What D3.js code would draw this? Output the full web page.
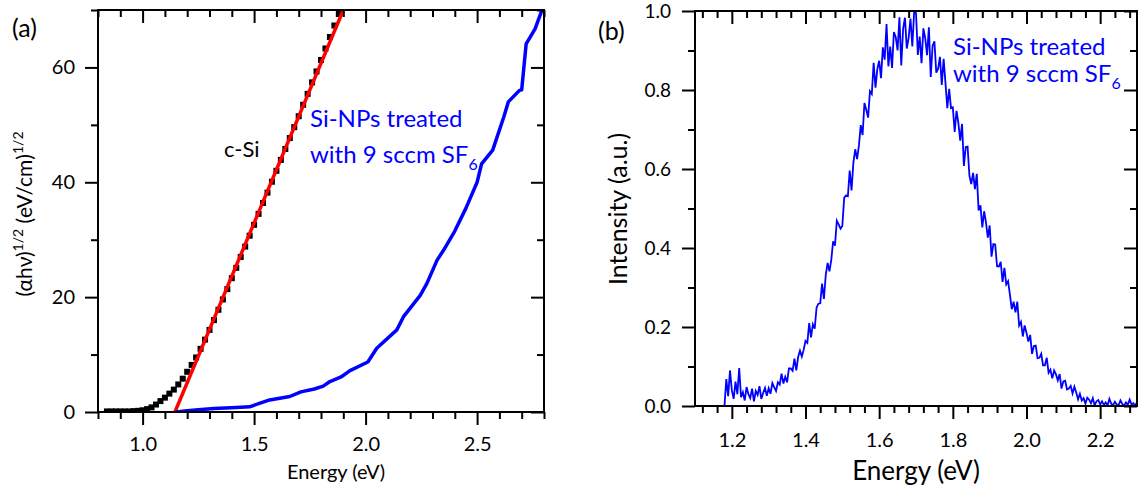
<!DOCTYPE html>
<html>
<head>
<meta charset="utf-8">
<script src="https://cdn.jsdelivr.net/npm/d3@7/dist/d3.min.js"></script>
<style>
  body { margin: 0; background: #fff; }
  svg text { font-family: Lato, "Open Sans", sans-serif; }
</style>
</head>
<body>
<div id="canvas"></div>
<script>
"use strict"

/* Panel (a): c-Si absorption, Tauc plot */
let cSiEnergy = [0.84, 0.86, 0.88, 0.90, 0.92, 0.94, 0.96, 0.98, 1.00, 1.02,
                 1.04, 1.06, 1.08, 1.10, 1.12, 1.14, 1.16, 1.18, 1.20, 1.22,
                 1.24, 1.26, 1.28, 1.30, 1.32, 1.34, 1.36, 1.38, 1.40, 1.42,
                 1.44, 1.46, 1.48, 1.50, 1.52, 1.54, 1.56, 1.58, 1.60, 1.62,
                 1.64, 1.66, 1.68, 1.70, 1.72, 1.74, 1.76, 1.78, 1.80, 1.82,
                 1.84, 1.86, 1.88];
let cSiValue = [0.1, 0.1, 0.1, 0.1, 0.1, 0.1, 0.15, 0.2, 0.3, 0.5,
                0.8, 1.3, 1.9, 2.5, 3.2, 3.9, 4.8, 5.8, 7.0, 8.2,
                9.5, 11.0, 12.6, 14.3, 16.0, 17.8, 19.6, 21.4, 23.3, 25.1,
                27.0, 28.8, 30.7, 32.6, 34.5, 36.4, 38.2, 40.1, 42.0, 43.9,
                45.8, 47.7, 49.6, 51.5, 53.5, 55.4, 57.4, 59.3, 61.3, 63.3,
                65.3, 67.3, 69.3];

/* linear fit line (red) */
let fitEnergy = [1.145, 1.90];
let fitValue = [0, 70];

/* Si-NPs treated with 9 sccm SF6 (blue) */
let npEnergy = [1.15, 1.20, 1.25, 1.32, 1.42, 1.48, 1.53, 1.57, 1.66, 1.71,
                1.77, 1.81, 1.84, 1.89, 1.93, 2.01, 2.05, 2.14, 2.17, 2.245,
                2.275, 2.32, 2.35, 2.40, 2.45, 2.50, 2.52, 2.57, 2.62, 2.64,
                2.69, 2.70, 2.72, 2.76, 2.79, 2.80];
let npValue = [0.0, 0.2, 0.4, 0.6, 0.8, 0.9, 1.6, 2.1, 2.7, 3.5,
               4.0, 4.5, 5.3, 6.1, 7.2, 8.7, 11.1, 14.3, 16.6, 20.3,
               22.4, 26.4, 28.2, 31.5, 35.5, 40.0, 43.2, 45.6, 51.4, 54.0,
               56.0, 56.1, 64.1, 66.7, 69.9, 71.0];

let aXMajor = [1.0, 1.5, 2.0, 2.5];
let aXMinor = [0.8, 0.9, 1.1, 1.2, 1.3, 1.4, 1.6, 1.7, 1.8, 1.9, 2.1, 2.2, 2.3, 2.4, 2.6, 2.7, 2.8];
let aYMajor = [0, 20, 40, 60];
let aYMinor = [10, 30, 50, 70];

/* Panel (b): PL spectrum, sampled every 0.005 eV from 1.18 eV */
let plStart = 1.18;
let plStep = 0.005;
let plIntensity = [
  0.000, 0.068, 0.025, 0.090, 0.040, 0.018, 0.062, 0.030, 0.096, 0.022,
  0.035, 0.014, 0.048, 0.030, 0.020, 0.044, 0.012, 0.038, 0.028, 0.050,
  0.018, 0.033, 0.046, 0.026,
  0.045, 0.031, 0.058, 0.048, 0.038, 0.060, 0.054, 0.082, 0.057, 0.074,
  0.060, 0.095, 0.095, 0.089, 0.120, 0.090, 0.124, 0.140, 0.125, 0.142,
  0.165, 0.160, 0.210, 0.174, 0.207, 0.196, 0.249, 0.259, 0.260, 0.310,
  0.271, 0.332, 0.362, 0.341, 0.370, 0.417, 0.406, 0.469, 0.460, 0.449,
  0.456, 0.527, 0.533, 0.531, 0.596, 0.546, 0.616, 0.650, 0.625, 0.659,
  0.711, 0.686, 0.767, 0.750, 0.730, 0.797, 0.790, 0.869, 0.806, 0.853,
  0.874, 0.830, 0.908, 0.877, 0.967, 0.860, 0.910, 0.856, 0.947, 0.934,
  0.900, 0.984, 0.862, 0.955, 0.983, 0.905, 0.932, 0.981, 0.910, 0.998,
  0.995, 0.889, 0.935, 0.868, 0.956, 0.931, 0.888, 0.959, 0.833, 0.912,
  0.923, 0.844, 0.854, 0.884, 0.813, 0.879, 0.818, 0.754, 0.803, 0.754,
  0.756, 0.694, 0.747, 0.717, 0.672, 0.714, 0.608, 0.656, 0.657, 0.583,
  0.562, 0.590, 0.549, 0.588, 0.495, 0.508, 0.452, 0.493, 0.464, 0.426,
  0.457, 0.378, 0.410, 0.409, 0.354, 0.353, 0.365, 0.314, 0.350, 0.308,
  0.316, 0.282, 0.245, 0.264, 0.237, 0.264, 0.204, 0.213, 0.176, 0.204,
  0.185, 0.163, 0.180, 0.132, 0.152, 0.153, 0.121, 0.122, 0.132, 0.103,
  0.103, 0.122, 0.084, 0.092, 0.070, 0.090, 0.080, 0.065, 0.081, 0.044,
  0.062, 0.064, 0.042, 0.044, 0.051, 0.032, 0.049, 0.034, 0.017, 0.031,
  0.014, 0.020, 0.006, 0.021, 0.016, 0.007, 0.020, 0.001, 0.012, 0.015,
  0.004, 0.012, 0.003, 0.009, 0.001, 0.018, 0.006, 0.002, 0.011, 0.004,
  0.002, 0.014, 0.005, 0.001, 0.009, 0.003, 0.016, 0.004, 0.007, 0.001,
  0.010
];

let bXMajor = [1.2, 1.4, 1.6, 1.8, 2.0, 2.2];
let bXMinor = [1.12, 1.16, 1.24, 1.28, 1.32, 1.36, 1.44, 1.48, 1.52, 1.56,
               1.64, 1.68, 1.72, 1.76, 1.84, 1.88, 1.92, 1.96, 2.04, 2.08,
               2.12, 2.16, 2.24, 2.28];
let bYMajor = [0, 0.2, 0.4, 0.6, 0.8, 1.0];
let bYMinor = [0.1, 0.3, 0.5, 0.7, 0.9];

/* Drawing canvas */
let svgWidth = 1138;
let svgHeight = 490;

let svg = d3.select("#canvas")
    .append("svg")
    .attr("width", svgWidth)
    .attr("height", svgHeight);

/* draw box with ticks: out on bottom/left, in on top/right */
function drawFrame(g, x, y, o) {
    let [x0, x1] = x.range();
    let [y0, y1] = y.range();

    let add = function (axis, tx, ty, values, size, fmt, pad, fs) {
        let a = g.append("g")
            .attr("transform", "translate(" + tx + "," + ty + ")")
            .call(axis.tickValues(values).tickSize(size).tickPadding(pad)
                .tickFormat(fmt ? fmt : ""));
        a.select(".domain").remove();
        a.selectAll(".tick line").attr("stroke", "black").attr("stroke-width", 2);
        a.selectAll("text").attr("fill", "black").style("font-size", fs + "px");
    };

    add(d3.axisBottom(x), 0, y0, o.xMajor, 13, o.xFmt, o.xPad, o.xFs);
    add(d3.axisBottom(x), 0, y0, o.xMinor, 7, null, 0, 0);
    add(d3.axisTop(x), 0, y1, o.xMajor, -13, null, 0, 0);
    add(d3.axisTop(x), 0, y1, o.xMinor, -7, null, 0, 0);
    add(d3.axisLeft(y), x0, 0, o.yMajor, 13, o.yFmt, o.yPad, o.yFs);
    add(d3.axisLeft(y), x0, 0, o.yMinor, 7, null, 0, 0);
    add(d3.axisRight(y), x1, 0, o.yMajor, -13, null, 0, 0);
    add(d3.axisRight(y), x1, 0, o.yMinor, -7, null, 0, 0);

    g.append("rect")
        .attr("x", x0)
        .attr("y", y1)
        .attr("width", x1 - x0)
        .attr("height", y0 - y1)
        .attr("fill", "none")
        .attr("stroke", "black")
        .attr("stroke-width", 2);
}

/* ---------- panel (a) ---------- */
let ga = svg.append("g");

let xA = d3.scaleLinear().domain([0.8, 2.8]).range([98, 544]);
let yA = d3.scaleLinear().domain([0, 70]).range([412, 10]);

svg.append("clipPath")
    .attr("id", "clipA")
    .append("rect")
    .attr("x", 98).attr("y", 10)
    .attr("width", 446).attr("height", 402);

let plotA = ga.append("g").attr("clip-path", "url(#clipA)");

plotA.selectAll("rect.sq")
    .data(d3.zip(cSiEnergy, cSiValue))
    .join("rect")
    .attr("class", "sq")
    .attr("x", d => xA(d[0]) - 3)
    .attr("y", d => yA(d[1]) - 3)
    .attr("width", 6)
    .attr("height", 6)
    .attr("fill", "black");

plotA.append("path")
    .datum(d3.zip(fitEnergy, fitValue))
    .attr("d", d3.line().x(d => xA(d[0])).y(d => yA(d[1])))
    .attr("fill", "none")
    .attr("stroke", "#ff0000")
    .attr("stroke-width", 3.5);

plotA.append("path")
    .datum(d3.zip(npEnergy, npValue))
    .attr("d", d3.line().x(d => xA(d[0])).y(d => yA(d[1])))
    .attr("fill", "none")
    .attr("stroke", "#0000ff")
    .attr("stroke-width", 3.5)
    .attr("stroke-linejoin", "round");

drawFrame(ga, xA, yA, {
    xMajor: aXMajor, xMinor: aXMinor, yMajor: aYMajor, yMinor: aYMinor,
    xFmt: d3.format(".1f"), yFmt: d3.format("d"),
    xPad: 12, yPad: 10, xFs: 20, yFs: 20
});

ga.append("text")
    .attr("x", 336)
    .attr("y", 479)
    .attr("text-anchor", "middle")
    .style("font-size", "20px")
    .text("Energy (eV)");

let yLabA = ga.append("text")
    .attr("transform", "translate(32,214) rotate(-90)")
    .attr("text-anchor", "middle")
    .style("font-size", "21px");
yLabA.append("tspan").text("(\u03B1h\u03BD)");
yLabA.append("tspan").attr("dy", -9).style("font-size", "14px").text("1/2");
yLabA.append("tspan").attr("dy", 9).text(" (eV/cm)");
yLabA.append("tspan").attr("dy", -9).style("font-size", "14px").text("1/2");

ga.append("text")
    .attr("x", 12)
    .attr("y", 37)
    .style("font-size", "25px")
    .text("(a)");

ga.append("text")
    .attr("x", 224)
    .attr("y", 157)
    .style("font-size", "22px")
    .text("c-Si");

ga.append("text")
    .attr("x", 310)
    .attr("y", 127)
    .attr("fill", "#0000ff")
    .style("font-size", "24px")
    .text("Si-NPs treated");

let sfA = ga.append("text")
    .attr("x", 310)
    .attr("y", 163)
    .attr("fill", "#0000ff")
    .style("font-size", "24px");
sfA.append("tspan").text("with 9 sccm SF");
sfA.append("tspan").attr("dy", 7).style("font-size", "16px").text("6");

/* ---------- panel (b) ---------- */
let gb = svg.append("g");

let xB = d3.scaleLinear().domain([1.1, 2.3]).range([695, 1137]);
let yB = d3.scaleLinear().domain([0, 1.0]).range([406, 11]);

svg.append("clipPath")
    .attr("id", "clipB")
    .append("rect")
    .attr("x", 695).attr("y", 11)
    .attr("width", 442).attr("height", 395);

gb.append("g")
    .attr("clip-path", "url(#clipB)")
    .append("path")
    .datum(plIntensity)
    .attr("d", d3.line()
        .x((d, i) => xB(plStart + i * plStep))
        .y(d => yB(d)))
    .attr("fill", "none")
    .attr("stroke", "#0000ff")
    .attr("stroke-width", 1.8);

drawFrame(gb, xB, yB, {
    xMajor: bXMajor, xMinor: bXMinor, yMajor: bYMajor, yMinor: bYMinor,
    xFmt: d3.format(".1f"), yFmt: d3.format(".1f"),
    xPad: 14, yPad: 11, xFs: 20, yFs: 19
});

gb.append("text")
    .attr("x", 916)
    .attr("y", 480)
    .attr("text-anchor", "middle")
    .style("font-size", "26px")
    .text("Energy (eV)");

gb.append("text")
    .attr("transform", "translate(627,209) rotate(-90)")
    .attr("text-anchor", "middle")
    .style("font-size", "25px")
    .text("Intensity (a.u.)");

gb.append("text")
    .attr("x", 598)
    .attr("y", 40)
    .style("font-size", "25px")
    .text("(b)");

gb.append("text")
    .attr("x", 953)
    .attr("y", 55)
    .attr("fill", "#0000ff")
    .style("font-size", "24px")
    .text("Si-NPs treated");

let sfB = gb.append("text")
    .attr("x", 953)
    .attr("y", 82)
    .attr("fill", "#0000ff")
    .style("font-size", "24px");
sfB.append("tspan").text("with 9 sccm SF");
sfB.append("tspan").attr("dy", 7).style("font-size", "16px").text("6");
</script>
</body>
</html>
